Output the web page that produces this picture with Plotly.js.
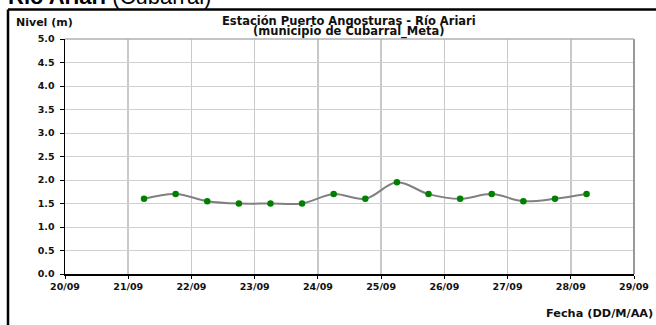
<!DOCTYPE html>
<html>
<head>
<meta charset="utf-8">
<script src="https://cdn.plot.ly/plotly-3.0.1.min.js"></script>
<style>
html,body{margin:0;padding:0;background:#fff;}
#chart{width:656px;height:325px;}
</style>
</head>
<body>
<div id="chart"></div>
<script>
// Data
const fechas = [
  "2013-09-21 06:00","2013-09-21 18:00",
  "2013-09-22 06:00","2013-09-22 18:00",
  "2013-09-23 06:00","2013-09-23 18:00",
  "2013-09-24 06:00","2013-09-24 18:00",
  "2013-09-25 06:00","2013-09-25 18:00",
  "2013-09-26 06:00","2013-09-26 18:00",
  "2013-09-27 06:00","2013-09-27 18:00",
  "2013-09-28 06:00"
];
const niveles = [1.6, 1.7, 1.55, 1.5, 1.5, 1.5, 1.7, 1.6, 1.95, 1.7, 1.6, 1.7, 1.55, 1.6, 1.7];
const rangoFechas = ["2013-09-20", "2013-09-29"];
const rangoNivel = [0, 5];
const encabezado = "<b>Río Ariari</b> (Cubarral)";
const tituloLinea1 = "Estación Puerto Angosturas - Río Ariari";
const tituloLinea2 = "(municipio de Cubarral_Meta)";
const tituloY = "Nivel (m)";
const tituloX = "Fecha (DD/M/AA)";

const F = "DejaVu Sans, Verdana, sans-serif";
const W = 656, H = 325;
const M = {l: 65, r: 22, t: 39, b: 51};
const pw = W - M.l - M.r, ph = H - M.t - M.b;
const px = x => (x - M.l) / pw;          // page x -> paper x
const py = y => (H - M.b - y) / ph;      // page y -> paper y

const trace = {
  x: fechas,
  y: niveles,
  type: "scatter",
  mode: "lines+markers",
  line: {color: "#808080", width: 2, shape: "spline", smoothing: 1},
  marker: {color: "#008000", size: 6.5},
  hoverinfo: "x+y"
};

const layout = {
  width: W, height: H,
  margin: M,
  paper_bgcolor: "#ffffff",
  plot_bgcolor: "#ffffff",
  showlegend: false,
  xaxis: {
    type: "date",
    range: rangoFechas,
    dtick: 86400000,
    tick0: rangoFechas[0],
    tickformat: "%d/%m",
    ticks: "outside", ticklen: 3, tickwidth: 1, tickcolor: "#000",
    showline: true, linecolor: "#000", linewidth: 1.5,
    showgrid: true, gridcolor: "#c8c8c8", gridwidth: 1.5,
    zeroline: false,
    tickfont: {family: F, size: 9.5, color: "#111", weight: "bold"},
    fixedrange: true
  },
  yaxis: {
    range: rangoNivel,
    dtick: 0.5, tick0: 0,
    tickformat: ".1f",
    ticks: "outside", ticklen: 4, tickwidth: 1, tickcolor: "#000",
    ticklabelstandoff: 3,
    showline: true, linecolor: "#000", linewidth: 1.5,
    showgrid: true, gridcolor: "#d0d0d0", gridwidth: 1,
    zeroline: false,
    tickfont: {family: F, size: 9.5, color: "#111", weight: "bold"},
    fixedrange: true
  },
  shapes: [
    // outer frame (top and left edges)
    {type: "line", xref: "paper", yref: "paper", x0: px(8), x1: px(700), y0: py(9.5), y1: py(9.5),
     line: {color: "#000", width: 2.5}},
    {type: "line", xref: "paper", yref: "paper", x0: px(8), x1: px(8), y0: py(9.5), y1: py(400),
     line: {color: "#000", width: 2.5}},
    // plot area right and top borders
    {type: "line", xref: "paper", yref: "paper", x0: 1, x1: 1, y0: 0, y1: 1,
     line: {color: "#999", width: 2}},
    {type: "line", xref: "paper", yref: "paper", x0: 0, x1: 1, y0: 1, y1: 1,
     line: {color: "#b0b0b0", width: 1.5}}
  ],
  annotations: [
    {text: encabezado, xref: "paper", yref: "paper", x: px(6), y: py(11), xanchor: "left", yanchor: "bottom",
     showarrow: false, font: {family: "Liberation Sans, Arial, sans-serif", size: 22, color: "#000"}},
    {text: tituloLinea1, xref: "paper", yref: "paper", x: px(349), y: py(21), xanchor: "center", yanchor: "middle",
     showarrow: false, font: {family: F, size: 11.5, color: "#111", weight: "bold"}},
    {text: tituloLinea2, xref: "paper", yref: "paper", x: px(349), y: py(31.5), xanchor: "center", yanchor: "middle",
     showarrow: false, font: {family: F, size: 11.5, color: "#111", weight: "bold"}},
    {text: tituloY, xref: "paper", yref: "paper", x: px(14), y: py(22), xanchor: "left", yanchor: "middle",
     showarrow: false, font: {family: F, size: 11, color: "#111", weight: "bold"}},
    {text: tituloX, xref: "paper", yref: "paper", x: px(655), y: py(313), xanchor: "right", yanchor: "middle",
     showarrow: false, font: {family: F, size: 11.3, color: "#111", weight: "bold"}}
  ]
};

Plotly.newPlot("chart", [trace], layout, {displayModeBar: false, staticPlot: true});
</script>
</body>
</html>
